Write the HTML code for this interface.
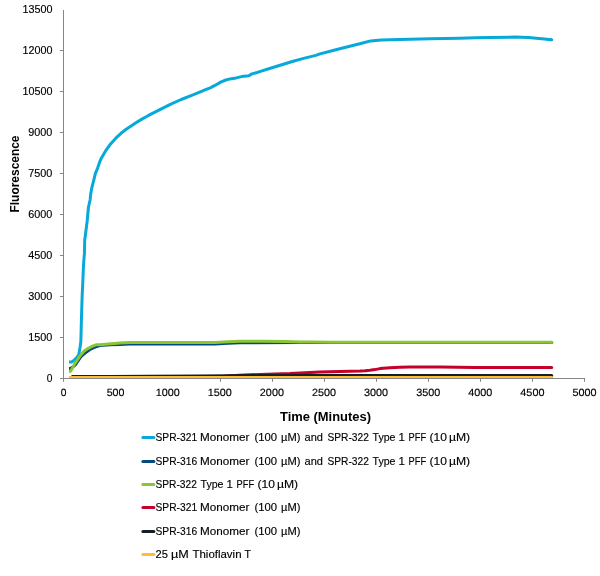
<!DOCTYPE html>
<html lang="en"><head><meta charset="utf-8"><title>Thioflavin T Fluorescence</title>
<style>
html,body{margin:0;padding:0;background:#fff;}
body{width:600px;height:576px;overflow:hidden;}
svg{display:block;will-change:transform;}
text{font-family:"Liberation Sans",sans-serif;fill:#000;}
.tick,.leg{stroke:#000;stroke-width:.15px;}
.tick{font-size:11.4px;}
.xt{font-size:10.5px;text-rendering:geometricPrecision;}
.leg{font-size:11.6px;}
.ttl{font-size:12.5px;font-weight:bold;}
</style></head><body>
<svg width="600" height="576" viewBox="0 0 600 576">
<rect width="600" height="576" fill="#fff"/>
<text class="tick" x="52.4" y="382" text-anchor="end" textLength="5.7" lengthAdjust="spacingAndGlyphs">0</text>
<text class="tick" x="52.4" y="341" text-anchor="end" textLength="24.1" lengthAdjust="spacingAndGlyphs">1500</text>
<text class="tick" x="52.4" y="300" text-anchor="end" textLength="24.1" lengthAdjust="spacingAndGlyphs">3000</text>
<text class="tick" x="52.4" y="259" text-anchor="end" textLength="24.1" lengthAdjust="spacingAndGlyphs">4500</text>
<text class="tick" x="52.4" y="218" text-anchor="end" textLength="24.1" lengthAdjust="spacingAndGlyphs">6000</text>
<text class="tick" x="52.4" y="177" text-anchor="end" textLength="24.1" lengthAdjust="spacingAndGlyphs">7500</text>
<text class="tick" x="52.4" y="136" text-anchor="end" textLength="24.1" lengthAdjust="spacingAndGlyphs">9000</text>
<text class="tick" x="52.4" y="95" text-anchor="end" textLength="30.0" lengthAdjust="spacingAndGlyphs">10500</text>
<text class="tick" x="52.4" y="54" text-anchor="end" textLength="30.0" lengthAdjust="spacingAndGlyphs">12000</text>
<text class="tick" x="52.4" y="13" text-anchor="end" textLength="30.0" lengthAdjust="spacingAndGlyphs">13500</text>
<text class="tick xt" x="63.50" y="396" text-anchor="middle" textLength="5.7" lengthAdjust="spacingAndGlyphs">0</text>
<text class="tick xt" x="115.60" y="396" text-anchor="middle" textLength="17.8" lengthAdjust="spacingAndGlyphs">500</text>
<text class="tick xt" x="167.70" y="396" text-anchor="middle" textLength="24.1" lengthAdjust="spacingAndGlyphs">1000</text>
<text class="tick xt" x="219.80" y="396" text-anchor="middle" textLength="24.1" lengthAdjust="spacingAndGlyphs">1500</text>
<text class="tick xt" x="271.90" y="396" text-anchor="middle" textLength="24.1" lengthAdjust="spacingAndGlyphs">2000</text>
<text class="tick xt" x="324.00" y="396" text-anchor="middle" textLength="24.1" lengthAdjust="spacingAndGlyphs">2500</text>
<text class="tick xt" x="376.10" y="396" text-anchor="middle" textLength="24.1" lengthAdjust="spacingAndGlyphs">3000</text>
<text class="tick xt" x="428.20" y="396" text-anchor="middle" textLength="24.1" lengthAdjust="spacingAndGlyphs">3500</text>
<text class="tick xt" x="480.30" y="396" text-anchor="middle" textLength="24.1" lengthAdjust="spacingAndGlyphs">4000</text>
<text class="tick xt" x="532.40" y="396" text-anchor="middle" textLength="24.1" lengthAdjust="spacingAndGlyphs">4500</text>
<text class="tick xt" x="584.50" y="396" text-anchor="middle" textLength="24.1" lengthAdjust="spacingAndGlyphs">5000</text>
<text class="ttl" transform="translate(19.3,174) rotate(-90)" text-anchor="middle" textLength="77" lengthAdjust="spacingAndGlyphs">Fluorescence</text>
<text class="ttl" x="325.5" y="420.7" text-anchor="middle" textLength="91" lengthAdjust="spacingAndGlyphs">Time (Minutes)</text>
<polyline points="69.0,362.1 71.6,362.1 72.8,361.3 74.2,360.0 76.3,358.0 78.0,356.0 78.8,354.4 79.2,352.6 79.5,350.5 80.1,347.0 80.8,342.0 81.0,336.5 81.4,320.0 82.1,297.4 82.9,280.0 83.4,267.8 83.8,260.8 84.4,253.9 84.7,240.0 85.4,235.0 86.3,228.0 87.2,221.0 87.8,214.0 88.5,207.0 90.1,200.0 90.6,194.7 91.8,187.8 93.6,180.8 95.3,173.9 97.6,168.1 100.2,160.6 101.2,158.5 105.4,151.2 110.6,143.9 115.8,138.2 121.0,133.3 126.2,129.3 131.5,125.7 136.7,122.3 141.9,119.1 147.1,116.3 150.0,114.6 160.4,109.3 170.8,104.1 181.2,99.5 191.7,95.3 202.1,91.2 205.6,89.7 210.2,87.8 215.4,85.2 220.6,82.1 225.8,80.0 230.0,78.9 236.2,77.9 241.5,76.6 248.8,75.8 251.9,73.9 257.1,72.5 261.2,71.1 267.2,69.3 279.3,65.5 291.5,61.8 303.6,58.4 315.8,55.4 320.0,53.9 333.9,50.2 347.8,46.7 361.7,43.2 370.7,40.9 381.1,39.9 400.0,39.4 430.0,38.8 460.0,38.2 475.0,37.7 490.0,37.4 515.0,37.1 528.3,37.6 541.7,38.7 551.7,39.7" fill="none" stroke="#06A9D7" stroke-width="3.0" stroke-linecap="butt" stroke-linejoin="round"/><circle cx="551.7" cy="39.7" r="1.5" fill="#06A9D7"/>
<polyline points="69.0,368.4 70.8,368.3 73.0,366.8 75.3,364.8 78.0,360.8 80.7,356.9 85.0,353.1 90.0,349.5 95.0,347.1 100.0,345.6 110.0,344.8 120.0,344.4 130.0,344.1 170.0,343.9 215.0,343.9 228.0,343.3 240.0,342.8 300.0,342.6 400.0,342.6 551.7,342.6" fill="none" stroke="#034B7D" stroke-width="3.0" stroke-linecap="butt" stroke-linejoin="round"/><circle cx="551.7" cy="342.6" r="1.5" fill="#034B7D"/>
<polyline points="69.0,371.4 70.6,371.3 72.2,368.5 74.5,364.3 77.2,360.2 79.9,356.0 84.2,351.1 88.3,348.3 92.5,346.2 96.0,344.8 100.8,344.7 107.8,344.1 114.7,343.6 120.0,343.1 130.0,342.6 145.0,342.4 170.0,342.4 215.0,342.4 228.0,341.8 240.0,341.3 265.0,341.2 285.0,341.5 300.0,341.9 312.0,342.1 330.0,342.2 400.0,342.2 480.0,342.2 551.7,342.2" fill="none" stroke="#8CC532" stroke-width="3.0" stroke-linecap="butt" stroke-linejoin="round"/><circle cx="551.7" cy="342.2" r="1.5" fill="#8CC532"/>
<polyline points="69.0,377.6 200.0,377.2 225.0,376.3 239.0,375.2 260.0,374.4 290.0,373.6 305.0,372.8 320.0,372.1 330.0,371.7 340.0,371.4 350.0,371.2 360.0,371.1 365.0,370.8 370.0,370.3 375.0,369.6 380.0,368.6 390.0,367.7 400.0,367.3 410.0,367.0 440.0,367.0 458.0,367.2 475.0,367.4 490.0,367.4 551.7,367.4" fill="none" stroke="#C4002B" stroke-width="3.0" stroke-linecap="butt" stroke-linejoin="round"/><circle cx="551.7" cy="367.4" r="1.5" fill="#C4002B"/>
<polyline points="71.5,376.6 110.0,376.5 150.0,376.2 200.0,375.9 260.0,375.6 300.0,375.4 551.7,375.4" fill="none" stroke="#151F2C" stroke-width="3.0" stroke-linecap="butt" stroke-linejoin="round"/><circle cx="551.7" cy="375.4" r="1.5" fill="#151F2C"/>
<polyline points="69.0,377.4 551.7,377.4" fill="none" stroke="#FDBD34" stroke-width="3.0" stroke-linecap="butt" stroke-linejoin="round"/><circle cx="551.7" cy="377.4" r="1.5" fill="#FDBD34"/>
<g stroke="#868686" stroke-width="1" fill="none">
<line x1="63.5" y1="10" x2="63.5" y2="379.0"/>
<line x1="63" y1="378.5" x2="585" y2="378.5"/>
<line x1="60" y1="378.50" x2="63.5" y2="378.50"/>
<line x1="60" y1="337.50" x2="63.5" y2="337.50"/>
<line x1="60" y1="296.50" x2="63.5" y2="296.50"/>
<line x1="60" y1="255.50" x2="63.5" y2="255.50"/>
<line x1="60" y1="214.50" x2="63.5" y2="214.50"/>
<line x1="60" y1="173.50" x2="63.5" y2="173.50"/>
<line x1="60" y1="132.50" x2="63.5" y2="132.50"/>
<line x1="60" y1="91.50" x2="63.5" y2="91.50"/>
<line x1="60" y1="50.50" x2="63.5" y2="50.50"/>
<line x1="63.50" y1="378.5" x2="63.50" y2="381.8"/>
<line x1="220.50" y1="378.5" x2="220.50" y2="381.8"/>
<line x1="272.50" y1="378.5" x2="272.50" y2="381.8"/>
<line x1="324.50" y1="378.5" x2="324.50" y2="381.8"/>
<line x1="376.50" y1="378.5" x2="376.50" y2="381.8"/>
<line x1="428.50" y1="378.5" x2="428.50" y2="381.8"/>
<line x1="480.50" y1="378.5" x2="480.50" y2="381.8"/>
<line x1="532.50" y1="378.5" x2="532.50" y2="381.8"/>
<line x1="584.50" y1="378.5" x2="584.50" y2="381.8"/>
</g>
<line x1="142.9" y1="437.50" x2="153.9" y2="437.50" stroke="#06A9D7" stroke-width="3.0" stroke-linecap="round"/>
<text class="leg" y="440.90"><tspan x="155.5" textLength="41.6" lengthAdjust="spacingAndGlyphs">SPR-321</tspan> <tspan x="200.1" textLength="49.4" lengthAdjust="spacingAndGlyphs">Monomer</tspan> <tspan x="254.5" textLength="22.6" lengthAdjust="spacingAndGlyphs">(100</tspan> <tspan x="281.1" textLength="19.4" lengthAdjust="spacingAndGlyphs">µM)</tspan> <tspan x="304.5" textLength="18.4" lengthAdjust="spacingAndGlyphs">and</tspan> <tspan x="327.5" textLength="41.4" lengthAdjust="spacingAndGlyphs">SPR-322</tspan> <tspan x="372.5" textLength="23.0" lengthAdjust="spacingAndGlyphs">Type</tspan> <tspan x="398.5" textLength="6.4" lengthAdjust="spacingAndGlyphs">1</tspan> <tspan x="408.5" textLength="17.6" lengthAdjust="spacingAndGlyphs">PFF</tspan> <tspan x="429.5" textLength="17.4" lengthAdjust="spacingAndGlyphs">(10</tspan> <tspan x="448.9" textLength="21.2" lengthAdjust="spacingAndGlyphs">µM)</tspan></text>
<line x1="142.9" y1="461.50" x2="153.9" y2="461.50" stroke="#034B7D" stroke-width="3.0" stroke-linecap="round"/>
<text class="leg" y="464.90"><tspan x="155.5" textLength="41.6" lengthAdjust="spacingAndGlyphs">SPR-316</tspan> <tspan x="200.1" textLength="49.4" lengthAdjust="spacingAndGlyphs">Monomer</tspan> <tspan x="254.5" textLength="22.6" lengthAdjust="spacingAndGlyphs">(100</tspan> <tspan x="281.1" textLength="19.4" lengthAdjust="spacingAndGlyphs">µM)</tspan> <tspan x="304.5" textLength="18.4" lengthAdjust="spacingAndGlyphs">and</tspan> <tspan x="327.5" textLength="41.4" lengthAdjust="spacingAndGlyphs">SPR-322</tspan> <tspan x="372.5" textLength="23.0" lengthAdjust="spacingAndGlyphs">Type</tspan> <tspan x="398.5" textLength="6.4" lengthAdjust="spacingAndGlyphs">1</tspan> <tspan x="408.5" textLength="17.6" lengthAdjust="spacingAndGlyphs">PFF</tspan> <tspan x="429.5" textLength="17.4" lengthAdjust="spacingAndGlyphs">(10</tspan> <tspan x="448.9" textLength="21.2" lengthAdjust="spacingAndGlyphs">µM)</tspan></text>
<line x1="142.9" y1="484.50" x2="153.9" y2="484.50" stroke="#8CC532" stroke-width="3.0" stroke-linecap="round"/>
<text class="leg" y="487.90"><tspan x="155.5" textLength="41.4" lengthAdjust="spacingAndGlyphs">SPR-322</tspan> <tspan x="200.5" textLength="23.0" lengthAdjust="spacingAndGlyphs">Type</tspan> <tspan x="226.5" textLength="6.4" lengthAdjust="spacingAndGlyphs">1</tspan> <tspan x="236.5" textLength="17.6" lengthAdjust="spacingAndGlyphs">PFF</tspan> <tspan x="257.5" textLength="17.4" lengthAdjust="spacingAndGlyphs">(10</tspan> <tspan x="276.9" textLength="21.2" lengthAdjust="spacingAndGlyphs">µM)</tspan></text>
<line x1="142.9" y1="507.50" x2="153.9" y2="507.50" stroke="#C4002B" stroke-width="3.0" stroke-linecap="round"/>
<text class="leg" y="510.90"><tspan x="155.5" textLength="41.6" lengthAdjust="spacingAndGlyphs">SPR-321</tspan> <tspan x="200.1" textLength="49.4" lengthAdjust="spacingAndGlyphs">Monomer</tspan> <tspan x="254.5" textLength="22.6" lengthAdjust="spacingAndGlyphs">(100</tspan> <tspan x="281.1" textLength="19.4" lengthAdjust="spacingAndGlyphs">µM)</tspan></text>
<line x1="142.9" y1="531.50" x2="153.9" y2="531.50" stroke="#151F2C" stroke-width="3.0" stroke-linecap="round"/>
<text class="leg" y="534.90"><tspan x="155.5" textLength="41.6" lengthAdjust="spacingAndGlyphs">SPR-316</tspan> <tspan x="200.1" textLength="49.4" lengthAdjust="spacingAndGlyphs">Monomer</tspan> <tspan x="254.5" textLength="22.6" lengthAdjust="spacingAndGlyphs">(100</tspan> <tspan x="281.1" textLength="19.4" lengthAdjust="spacingAndGlyphs">µM)</tspan></text>
<line x1="142.9" y1="554.50" x2="153.9" y2="554.50" stroke="#FDBD34" stroke-width="3.0" stroke-linecap="round"/>
<text class="leg" y="557.90"><tspan x="155.5" textLength="12.4" lengthAdjust="spacingAndGlyphs">25</tspan> <tspan x="171.1" textLength="17.8" lengthAdjust="spacingAndGlyphs">µM</tspan> <tspan x="192.5" textLength="49.0" lengthAdjust="spacingAndGlyphs">Thioflavin</tspan> <tspan x="244.5" textLength="6.4" lengthAdjust="spacingAndGlyphs">T</tspan></text>
</svg></body></html>
